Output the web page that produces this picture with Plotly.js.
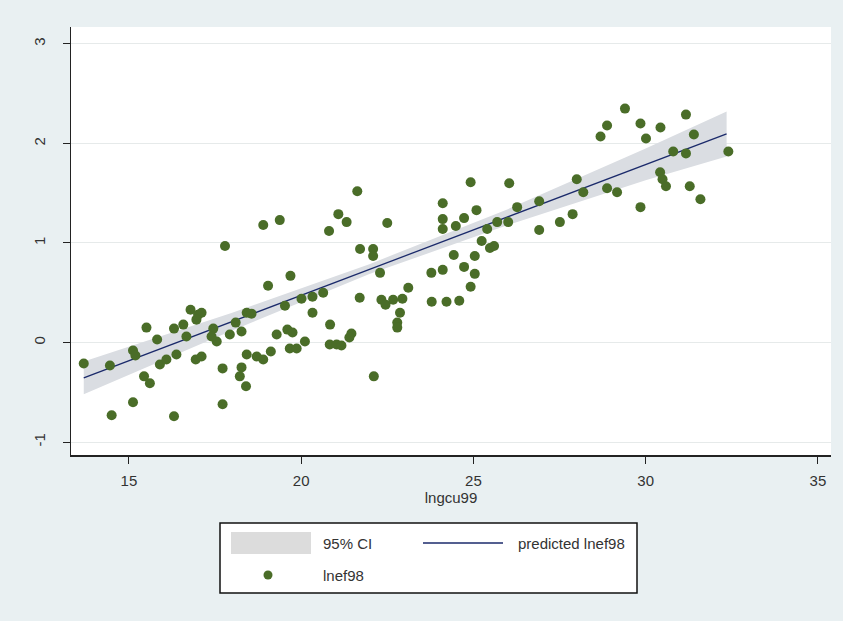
<!DOCTYPE html>
<html>
<head>
<meta charset="utf-8">
<script src="https://cdn.plot.ly/plotly-3.0.1.min.js"></script>
<style>html,body{margin:0;padding:0;background:#E9F0F2;}</style>
</head>
<body>
<div id="chart" style="width:843px;height:621px;"></div>
<script>
// ---- data ----
const lngcu99 = [
 13.69,14.45,14.50,15.12,15.19,15.12,15.51,15.82,15.44,15.61,15.90,16.09,16.31,16.58,16.67,16.38,16.31,
 16.79,17.01,17.11,16.96,16.94,17.11,17.45,17.55,17.40,17.72,17.72,17.93,18.10,18.27,18.42,18.56,18.42,
 18.71,18.90,18.27,18.22,18.40,19.04,19.12,
 17.79,18.90,19.38,21.63,21.08,21.32,20.81,22.50,21.71,22.09,22.09,22.29,19.69,19.53,20.01,20.33,20.64,
 20.33,19.29,19.60,19.75,20.84,21.46,21.40,19.67,19.87,20.11,20.83,21.03,21.17,22.11,21.70,22.33,22.45,
 24.92,26.04,28.00,24.11,24.11,24.11,24.49,24.73,25.09,25.40,25.69,26.01,26.27,26.91,26.91,27.51,27.88,
 25.24,25.48,25.60,24.43,25.04,24.73,25.04,24.92,23.78,24.11,23.11,22.67,22.94,22.87,22.79,22.79,23.79,
 24.22,24.59,
 29.40,31.17,28.88,29.85,30.43,28.69,30.01,31.40,30.80,31.17,32.40,30.42,30.49,30.59,31.28,31.59,29.85,
 28.19,28.88,29.17
];
const lnef98 = [
 -0.21,-0.23,-0.73,-0.08,-0.13,-0.60,0.15,0.03,-0.34,-0.41,-0.22,-0.17,0.14,0.18,0.06,-0.12,-0.74,
 0.33,0.28,0.30,0.23,-0.17,-0.14,0.14,0.01,0.06,-0.26,-0.62,0.08,0.20,0.11,0.30,0.29,-0.12,
 -0.14,-0.17,-0.25,-0.34,-0.44,0.57,-0.09,
 0.97,1.18,1.23,1.52,1.29,1.21,1.12,1.20,0.94,0.94,0.87,0.70,0.67,0.37,0.44,0.46,0.50,
 0.30,0.08,0.13,0.10,0.18,0.09,0.05,-0.06,-0.06,0.01,-0.02,-0.02,-0.03,-0.34,0.45,0.43,0.38,
 1.61,1.60,1.64,1.40,1.24,1.14,1.17,1.25,1.33,1.14,1.21,1.21,1.36,1.42,1.13,1.21,1.29,
 1.02,0.95,0.97,0.88,0.87,0.76,0.69,0.56,0.70,0.73,0.55,0.43,0.44,0.30,0.20,0.15,0.41,
 0.41,0.42,
 2.35,2.29,2.18,2.20,2.16,2.07,2.05,2.09,1.92,1.90,1.92,1.71,1.64,1.57,1.57,1.44,1.36,
 1.51,1.55,1.51
];
// fitted line and 95% CI band
const fitX  = [13.69, 18.0, 22.0, 26.0, 30.0, 32.35];
const fitY  = [-0.355, 0.211, 0.737, 1.263, 1.788, 2.097];
const ciLo  = [-0.52, 0.12, 0.69, 1.18, 1.63, 1.87];
const ciHi  = [-0.19, 0.30, 0.79, 1.34, 1.95, 2.32];
const xTicks = [15, 20, 25, 30, 35];
const yTicks = [-1, 0, 1, 2, 3];
const xTitle = "lngcu99";
const legendLabels = ["95% CI", "predicted lnef98", "lnef98"];

// ---- styling ----
const W = 843, H = 621;
const M = {l: 71, r: 12, t: 27, b: 166};
const PW = W - M.l - M.r, PH = H - M.t - M.b;
const px = v => (v - M.l) / PW;
const py = v => (H - M.b - v) / PH;
const green = "#4A6D28", navy = "#1B2A6B", band = "#DADDE2";
const font = "Liberation Sans, Arial, sans-serif";

const traces = [
  {x: fitX, y: ciLo, mode: "lines", line: {width: 0, color: band}, hoverinfo: "skip", showlegend: false},
  {x: fitX, y: ciHi, mode: "lines", line: {width: 0, color: band}, fill: "tonexty", fillcolor: band, showlegend: false},
  {x: fitX, y: fitY, mode: "lines", line: {color: navy, width: 1.3}, showlegend: false},
  {x: lngcu99, y: lnef98, mode: "markers", marker: {color: green, size: 10, symbol: "circle", line: {width: 0}}, showlegend: false}
];

const shapes = [
  {type: "rect", xref: "paper", yref: "paper", x0: px(220), x1: px(637), y0: py(523), y1: py(593),
   line: {color: "#111", width: 1.5}, fillcolor: "#ffffff", layer: "above"},
  {type: "rect", xref: "paper", yref: "paper", x0: px(231), x1: px(311), y0: py(532), y1: py(554),
   line: {width: 0}, fillcolor: "#DCDCDC"},
  {type: "line", xref: "paper", yref: "paper", x0: px(423), x1: px(503), y0: py(543), y1: py(543),
   line: {color: navy, width: 1.3}},
  {type: "circle", xref: "paper", yref: "paper", xsizemode: "pixel", ysizemode: "pixel",
   xanchor: px(268), yanchor: py(575), x0: -4.5, x1: 4.5, y0: -4.5, y1: 4.5,
   fillcolor: green, line: {width: 0}}
];
const tf = {family: font, size: 15, color: "#333"};
const annotations = [
  {xref: "paper", yref: "paper", x: px(321), y: py(543), text: legendLabels[0], showarrow: false, xanchor: "left", yanchor: "middle", font: tf},
  {xref: "paper", yref: "paper", x: px(516), y: py(543), text: legendLabels[1], showarrow: false, xanchor: "left", yanchor: "middle", font: tf},
  {xref: "paper", yref: "paper", x: px(321), y: py(575), text: legendLabels[2], showarrow: false, xanchor: "left", yanchor: "middle", font: tf}
];

const layout = {
  width: W, height: H, margin: M,
  paper_bgcolor: "#E9F0F2", plot_bgcolor: "#ffffff",
  showlegend: false,
  font: {family: font, size: 15, color: "#333"},
  xaxis: {range: [13.32, 35.38], tickvals: xTicks, ticks: "outside", ticklen: 7, tickcolor: "#222",
          showline: true, linecolor: "#222", linewidth: 1.5, showgrid: false, zeroline: false,
          ticklabelstandoff: 4,
          tickfont: {family: font, size: 15, color: "#333"},
          title: {text: xTitle, standoff: 3, font: {family: font, size: 15, color: "#333"}}},
  yaxis: {range: [-1.13, 3.17], tickvals: yTicks, ticktext: yTicks.map(String), ticks: "outside", ticklen: 7, tickcolor: "#222",
          tickangle: -90, showline: true, linecolor: "#222", linewidth: 1.5, ticklabelstandoff: 12,
          showgrid: true, gridcolor: "#E6EAEA", gridwidth: 1, zeroline: false,
          tickfont: {family: font, size: 15, color: "#333"}},
  shapes: shapes, annotations: annotations
};

Plotly.newPlot("chart", traces, layout, {staticPlot: true, displayModeBar: false});
</script>
</body>
</html>
